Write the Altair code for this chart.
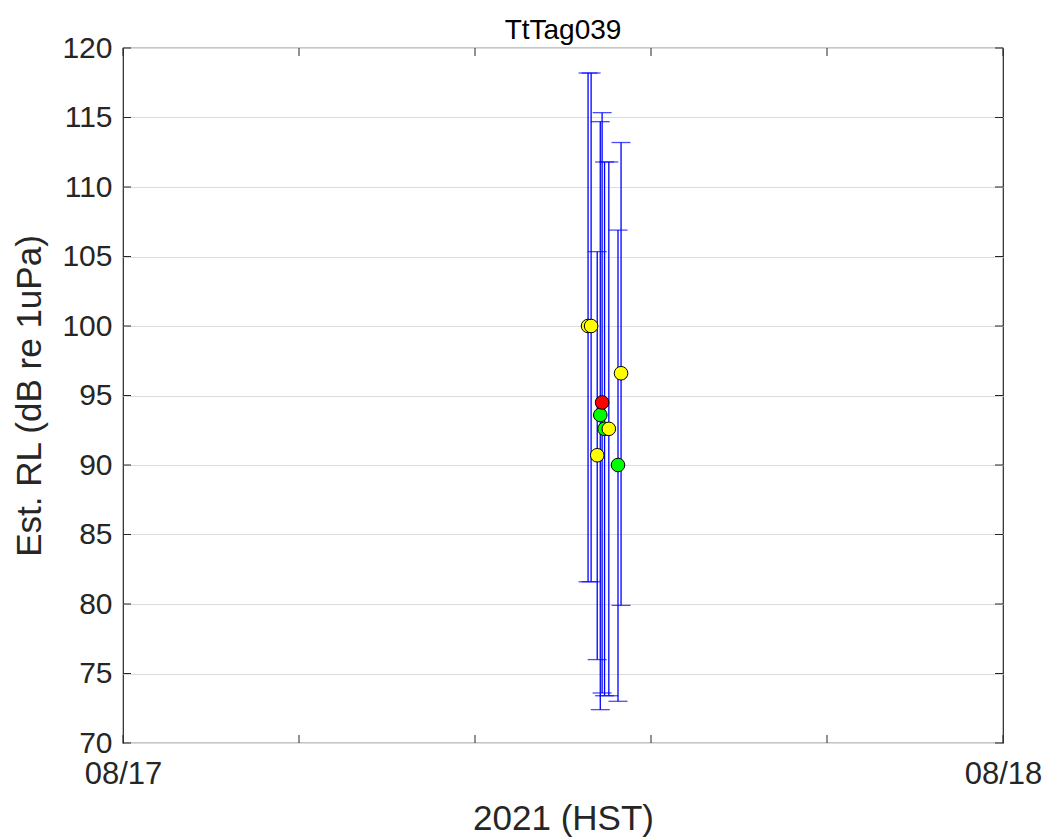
import altair as alt
import pandas as pd

title_text = "TtTag039"
x_title = "2021 (HST)"
y_title = "Est. RL (dB re 1uPa)"

# detection times on 2021-08-17 (HST)
times = ["12:41", "12:46", "12:56", "13:01", "13:04", "13:08", "13:15", "13:30", "13:35"]
rl = [100.0, 100.0, 90.7, 93.6, 94.5, 92.6, 92.6, 90.0, 96.6]
rl_low = [81.6, 81.6, 76.0, 72.4, 73.6, 73.4, 73.4, 73.0, 79.9]
rl_high = [118.2, 118.2, 105.35, 114.7, 115.35, 111.8, 111.8, 106.9, 113.2]
marker_class = ["yellow", "yellow", "yellow", "green", "red", "green", "yellow", "green", "yellow"]

class_domain = ["yellow", "green", "red"]
class_colors = ["#ffff00", "#00ff00", "#ff0000"]

x_tick_hours = [0, 4.8, 9.6, 14.4, 19.2, 24]
x_tick_labels = ["08/17", "", "", "", "", "08/18"]
y_ticks = [70, 75, 80, 85, 90, 95, 100, 105, 110, 115, 120]


def to_hours(t):
    h, m = t.split(":")
    return int(h) + int(m) / 60.0


df = pd.DataFrame({
    "hour": [to_hours(t) for t in times],
    "rl": rl,
    "lo": rl_low,
    "hi": rl_high,
    "cls": marker_class,
})
xt = pd.DataFrame({"hour": x_tick_hours})
yt = pd.DataFrame({"rl": y_ticks})
tt = pd.DataFrame({"label": [title_text]})

W, H = 880, 695
FONT = "Liberation Sans"
AX = "#262626"
TICK_LEN = 8

xscale = alt.Scale(domain=[0, 24], nice=False, zero=False)
yscale = alt.Scale(domain=[70, 120], nice=False, zero=False)

label_expr = " : ".join(
    f"datum.value == {v} ? '{l}'" for v, l in zip(x_tick_hours, x_tick_labels) if l
) + " : ''"

x_axis = alt.Axis(values=x_tick_hours, labelExpr=label_expr, grid=False, ticks=False,
                  domain=False, title=x_title, labelFont=FONT, labelFontSize=31,
                  labelColor=AX, labelPadding=16, labelFlush=False, labelOverlap=False,
                  titleFont=FONT, titleFontSize=35, titleFontWeight="normal",
                  titleColor=AX, titlePadding=12)
y_axis = alt.Axis(values=y_ticks, grid=True, gridColor="#dcdcdc", gridWidth=1,
                  ticks=False, domain=False, title=y_title, labelFont=FONT,
                  labelFontSize=30, labelColor=AX, labelPadding=11, labelOverlap=False,
                  titleFont=FONT, titleFontSize=35, titleFontWeight="normal",
                  titleColor=AX, titlePadding=14)


def X(field):
    return alt.X(f"{field}:Q", scale=xscale, axis=x_axis)


def Y(field):
    return alt.Y(f"{field}:Q", scale=yscale, axis=y_axis)


base = alt.Chart(df)
BLUE = "#0000ff"

bars = base.mark_rule(color=BLUE, strokeWidth=1.3).encode(
    x=X("hour"), y=Y("lo"), y2="hi:Q")
cap_hi = base.mark_tick(orient="horizontal", color=BLUE, size=19, thickness=1.3).encode(
    x=X("hour"), y=Y("hi"))
cap_lo = base.mark_tick(orient="horizontal", color=BLUE, size=19, thickness=1.3).encode(
    x=X("hour"), y=Y("lo"))

points = base.mark_circle(size=185, stroke="black", strokeWidth=1, opacity=1).encode(
    x=X("hour"), y=Y("rl"),
    fill=alt.Fill("cls:N", scale=alt.Scale(domain=class_domain, range=class_colors), legend=None),
)

xt_bottom = alt.Chart(xt).mark_rule(color=AX, strokeWidth=1).encode(
    x=X("hour"), y=alt.value(H), y2=alt.value(H - TICK_LEN))
xt_top = alt.Chart(xt).mark_rule(color=AX, strokeWidth=1).encode(
    x=X("hour"), y=alt.value(0), y2=alt.value(TICK_LEN))
yt_left = alt.Chart(yt).mark_rule(color=AX, strokeWidth=1).encode(
    y=Y("rl"), x=alt.value(0), x2=alt.value(TICK_LEN))
yt_right = alt.Chart(yt).mark_rule(color=AX, strokeWidth=1).encode(
    y=Y("rl"), x=alt.value(W - TICK_LEN), x2=alt.value(W))

title_mark = alt.Chart(tt).mark_text(font=FONT, fontSize=28, color="black",
                                     baseline="alphabetic", align="center").encode(
    text="label:N", x=alt.value(W / 2), y=alt.value(-9))

chart = alt.layer(bars, cap_hi, cap_lo, xt_bottom, xt_top, yt_left, yt_right, points,
                  title_mark).properties(
    width=W,
    height=H,
    background="white",
    autosize=alt.AutoSizeParams(type="none"),
    padding={"left": 115, "top": 40, "right": 40, "bottom": 100},
).configure_view(stroke=AX, strokeWidth=1.2)

chart.save("out.html", embed_options={"renderer": "svg", "actions": False})
